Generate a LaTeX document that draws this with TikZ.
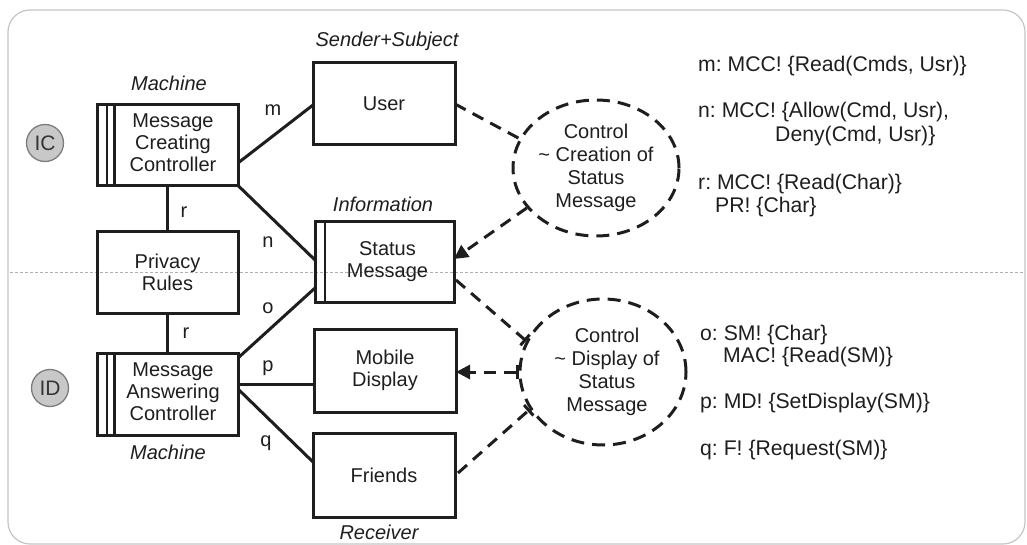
\documentclass[tikz,border=0pt]{standalone}
\usepackage{fontspec}
\setmainfont{Liberation Sans}
\usetikzlibrary{arrows.meta,shapes.geometric,calc}

\definecolor{framegray}{RGB}{196,196,196}
\definecolor{sepgray}{RGB}{175,175,175}
\definecolor{discfill}{RGB}{200,200,200}
\definecolor{discline}{RGB}{125,125,125}
\definecolor{ink}{RGB}{30,30,30}

\tikzset{
  box/.style={draw=ink, line width=3pt, rectangle, minimum width=141pt,
    minimum height=81pt, inner sep=0pt, outer sep=0pt, align=center,
    text=ink, font=\fontsize{20pt}{22pt}\selectfont},
  stripe/.style={draw=ink, line width=2.5pt},
  solidlink/.style={draw=ink, line width=3pt},
  dashlink/.style={draw=ink, line width=3pt, dash pattern=on 12pt off 8pt},
  ctrl/.style={ellipse, draw=ink, line width=3pt, dash pattern=on 13pt off 8pt,
    inner sep=0pt, align=center, text=ink,
    font=\fontsize{20pt}{23pt}\selectfont},
  linklabel/.style={inner sep=0pt, text=ink, font=\fontsize{20pt}{22pt}\selectfont},
  role/.style={inner sep=0pt, anchor=base, text=ink,
    font=\fontsize{20pt}{22pt}\selectfont\itshape},
  spec/.style={inner sep=0pt, anchor=base west, text=ink,
    font=\fontsize{21.2pt}{23pt}\selectfont\frenchspacing},
  disc/.style={circle, draw=discline, fill=discfill, line width=1.3pt,
    minimum size=37pt, inner sep=0pt, text=ink!90,
    font=\fontsize{21pt}{22pt}\selectfont},
  tip/.style={-{Triangle[length=14pt,width=14pt]}},
}

\begin{document}
\begin{tikzpicture}[x=1pt,y=-1pt]
\useasboundingbox (0,0) rectangle (1027,545);

% outer frame and the separator between the two domains
\draw[framegray, line width=1.2pt, rounded corners=22pt] (8,10) rectangle (1025,544);
\draw[sepgray, line width=1pt, dash pattern=on 3pt off 2pt] (10,272) -- (1025,272);

% domain markers
\node[disc] (ic) at (45,143) {IC};
\node[disc] (id) at (50,388) {ID};

% machine domains
\node[box] (mcc) at (167.5,145)
  {\hspace*{11pt}\begin{tabular}{@{}c@{}}Message\\Creating\\Controller\end{tabular}};
\node[box] (pr) at (167.5,272.5) {Privacy\\Rules};
\node[box, minimum height=82pt] (mac) at (167.5,394)
  {\hspace*{11pt}\begin{tabular}{@{}c@{}}Message\\Answering\\Controller\end{tabular}};

% given domains
\node[box, minimum width=142pt, minimum height=82pt] (user) at (384,104) {User};
\node[box, minimum width=139pt, minimum height=80pt] (sm) at (384.5,262)
  {\hspace*{6pt}\begin{tabular}{@{}c@{}}Status\\Message\end{tabular}};
\node[box, minimum width=142pt, minimum height=83pt] (md) at (385,370.5) {Mobile\\Display};
\node[box, minimum width=142pt, minimum height=84pt] (fr) at (384,475) {Friends};

% double / single stripes on the machine and designed domains
\foreach \b in {mcc,mac}{
  \draw[stripe, line width=2pt] ($(\b.north west)+(10,0)$) -- ($(\b.south west)+(10,0)$);
  \draw[stripe, line width=3pt] ($(\b.north west)+(17,0)$) -- ($(\b.south west)+(17,0)$);
}
\draw[stripe] ($(sm.north west)+(10,0)$) -- ($(sm.south west)+(10,0)$);

% domain roles
\node[role] (rmcc) at (169,91) {Machine};
\node[role] (ruser) at (387,47) {Sender+Subject};
\node[role] (rsm) at (383,212) {Information};
\node[role] (rmac) at (168,459) {Machine};
\node[role] (rfr) at (379,539) {Receiver};

% shared phenomena interfaces
\draw[solidlink] ($(mcc.east)+(0,18)$) -- ($(user.west)+(0,1)$);
\draw[solidlink] (mcc.south east) -- ($(sm.west)+(0,-2)$);
\draw[solidlink] (mcc.south -| pr.north) -- (pr.north);
\draw[solidlink] (pr.south) -- (mac.north);
\draw[solidlink] ($(mac.east)+(0,-36)$) -- ($(sm.west)+(0,26)$);
\draw[solidlink] ($(mac.east)+(0,-10)$) -- ($(md.west)+(0,13.5)$);
\draw[solidlink] ($(mac.east)+(0,-5)$) -- ($(fr.west)+(0,-13)$);

\node[linklabel] (lm) at (273,110) {m};
\node[linklabel] (ln) at (268,242) {n};
\node[linklabel] (lr1) at (184,212) {r};
\node[linklabel] (lr2) at (186,333) {r};
\node[linklabel] (lo) at (268,308) {o};
\node[linklabel] (lp) at (268,368) {p};
\node[linklabel] (lq) at (266,443) {q};

% requirements
\node[ctrl, minimum width=166pt, minimum height=136pt] (upe) at (596,168)
  {Control\\\textasciitilde{} Creation of\\Status\\Message};
\node[ctrl, minimum width=166pt, minimum height=146pt] (lwe) at (603,372)
  {\hspace*{8pt}\begin{tabular}{@{}c@{}}Control\\\textasciitilde{} Display of\\Status\\Message\end{tabular}};

% requirement references and constraints
\draw[dashlink] (user.east) -- (upe.159);
\draw[dashlink, tip] (upe.210) -- ($(sm.east)+(0,-3)$);
\draw[dashlink, -{Bar[width=14pt]}] ($(sm.east)+(2,18)$) -- (lwe.158);
\draw[dashlink, {Bar[width=14pt]}-{Triangle[length=14pt,width=14pt]}]
  (lwe.west) -- (lwe.west -| md.east);
\draw[dashlink, -{Bar[width=14pt]}] ($(fr.east)+(3,-2)$) -- (lwe.207);

% phenomena specifications
\node[spec] (sm1) at (698,72) {m: MCC! \{Read(Cmds, Usr)\}};
\node[spec] (sn1) at (698,118) {n: MCC! \{Allow(Cmd, Usr),};
\node[spec] (sn2) at (775,142) {Deny(Cmd, Usr)\}};
\node[spec] (sr1) at (698,190) {r: MCC! \{Read(Char)\}};
\node[spec] (sr2) at (715,213) {PR! \{Char\}};
\node[spec] (so1) at (700,340) {o: SM! \{Char\}};
\node[spec] (so2) at (723,362) {MAC! \{Read(SM)\}};
\node[spec] (sp1) at (700,408) {p: MD! \{SetDisplay(SM)\}};
\node[spec] (sq1) at (700,455) {q: F! \{Request(SM)\}};
\end{tikzpicture}
\end{document}
